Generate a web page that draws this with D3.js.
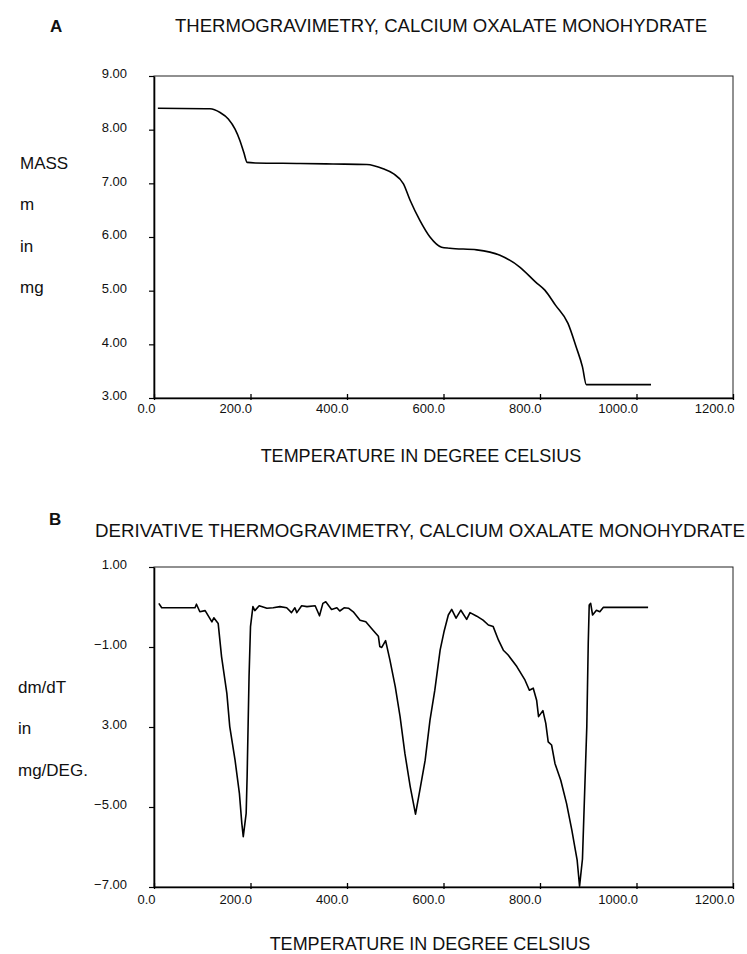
<!DOCTYPE html>
<html>
<head>
<meta charset="utf-8">
<script src="https://cdn.jsdelivr.net/npm/d3@7"></script>
<style>
  body { margin: 0; background: #fff; }
  text { font-family: "Liberation Sans", Arial, sans-serif; fill: #111; }
</style>
</head>
<body>
<div id="chart"></div>
<script>
// ---- data ----
// A: mass (mg) against temperature (deg C)
var tgTemp = [8, 116, 137, 154, 168, 178, 186, 193, 210, 303, 371, 441, 475, 496, 517, 531,
  551, 572, 596, 613, 669, 717, 758, 791, 810, 832, 858, 875, 888, 896, 1030]
var tgMass = [8.40, 8.39, 8.32, 8.20, 8.01, 7.80, 7.58, 7.39, 7.38, 7.37, 7.36, 7.35, 7.27, 7.18, 6.99, 6.68,
  6.31, 6.00, 5.81, 5.79, 5.76, 5.66, 5.44, 5.16, 5.01, 4.73, 4.39, 3.95, 3.58, 3.25, 3.25]

// B: dm/dT (mg/deg) against temperature
var dtgTemp = [10, 16, 85, 88, 95, 106, 120, 124, 133, 140, 151, 157, 168, 177, 182, 185, 191, 193, 195, 197, 200,
  205, 209, 218, 234, 247, 261, 275, 285, 292, 296, 306, 317, 334, 343, 350, 356, 368, 379, 385, 394, 403, 413,
  427, 439, 454, 465, 468, 472, 480, 489, 500, 510, 520, 531, 542, 551, 562, 572, 582, 593, 601, 610, 617, 626,
  636, 648, 655, 669, 682, 693, 703, 714, 724, 734, 752, 769, 778, 786, 793, 797, 806, 812, 817, 824, 831, 843,
  855, 866, 872, 877, 882, 888, 897, 900, 902, 905, 909, 917, 924, 931, 1024]
var dtgValue = [0.09, -0.02, -0.02, 0.07, -0.12, -0.09, -0.37, -0.27, -0.41, -1.24, -2.16, -2.99, -3.83, -4.66, -5.41, -5.74, -5.16, -4.24, -2.99, -1.74, -0.49,
  0.01, -0.09, 0.03, -0.03, -0.02, 0.01, -0.02, -0.14, -0.02, -0.14, 0.03, 0.01, 0.03, -0.22, 0.09, 0.13, -0.06, -0.02, -0.10, -0.02, -0.03, -0.12,
  -0.33, -0.37, -0.58, -0.73, -0.99, -1.01, -0.84, -1.33, -1.99, -2.74, -3.66, -4.49, -5.18, -4.58, -3.83, -2.83, -2.08, -1.08, -0.62, -0.20, -0.06, -0.28,
  -0.08, -0.31, -0.14, -0.23, -0.33, -0.45, -0.49, -0.83, -1.08, -1.20, -1.49, -1.83, -2.08, -2.03, -2.33, -2.74, -2.59, -2.91, -3.37, -3.45, -3.91, -4.33,
  -4.91, -5.58, -5.99, -6.33, -6.98, -6.30, -2.99, -0.90, 0.05, 0.09, -0.20, -0.08, -0.12, -0.01, -0.01]

var xTicks = [0, 200, 400, 600, 800, 1000, 1200]
var xTickLabels = ["0.0", "200.0", "400.0", "600.0", "800.0", "1000.0", "1200.0"]
var tgTicks = [3, 4, 5, 6, 7, 8, 9]
var tgTickLabels = ["3.00", "4.00", "5.00", "6.00", "7.00", "8.00", "9.00"]
var dtgTicks = [1, -1, -3, -5, -7]
var dtgTickLabels = ["1.00", "\u22121.00", "3.00", "\u22125.00", "\u22127.00"]

var xLabel = "TEMPERATURE IN DEGREE CELSIUS"
var tgTitle = "THERMOGRAVIMETRY,  CALCIUM OXALATE MONOHYDRATE"
var dtgTitle = "DERIVATIVE THERMOGRAVIMETRY, CALCIUM OXALATE MONOHYDRATE"
var tgYLabel = ["MASS", "m", "in", "mg"]
var dtgYLabel = ["dm/dT", "in", "mg/DEG."]

var svg = d3.select("#chart").append("svg")
  .attr("width", 747)
  .attr("height", 954)

function panel(opt){
  var g = svg.append("g")
  var x = d3.scaleLinear().domain([0, 1200]).range([154, 733])
  var y = d3.scaleLinear().domain(opt.domain).range([opt.bottom, opt.top])

  g.append("rect")
    .attr("x", 154).attr("y", opt.top)
    .attr("width", 733 - 154).attr("height", opt.bottom - opt.top)
    .attr("fill", "none").attr("stroke", "#222").attr("stroke-width", 1)

  var xAxis = g.append("g")
    .attr("transform", "translate(0," + opt.bottom + ")")
    .call(d3.axisBottom(x).tickValues(xTicks)
      .tickFormat(function(d, i){ return xTickLabels[i] })
      .tickSizeInner(-4).tickSizeOuter(0).tickPadding(opt.xPad))
  xAxis.select(".domain").attr("stroke", "#000").attr("stroke-width", 1.6)
  xAxis.selectAll(".tick line").attr("stroke", "#000").attr("stroke-width", 1.3)
    .attr("y1", 2)
  // the tick labels end at their tick
  xAxis.selectAll("text").attr("font-size", 13).attr("fill", "#222")
    .attr("text-anchor", "end").attr("x", 1)
    .attr("font-family", "'Liberation Sans', Arial, sans-serif")

  var yAxis = g.append("g")
    .attr("transform", "translate(154,0)")
    .call(d3.axisLeft(y).tickValues(opt.ticks)
      .tickFormat(function(d, i){ return opt.tickLabels[i] })
      .tickSizeInner(5).tickSizeOuter(0).tickPadding(22))
  yAxis.select(".domain").attr("stroke", "#000").attr("stroke-width", 1.6)
  yAxis.selectAll(".tick line").attr("stroke", "#000").attr("stroke-width", 1.2)
  yAxis.selectAll("text").attr("font-size", 13).attr("fill", "#222").attr("dy", "0.13em")
    .attr("font-family", "'Liberation Sans', Arial, sans-serif")

  var pts = d3.zip(opt.xs, opt.ys)
  g.append("path")
    .datum(pts)
    .attr("fill", "none")
    .attr("stroke", "#000")
    .attr("stroke-width", 1.6)
    .attr("stroke-linejoin", "round")
    .attr("d", d3.line()
      .x(function(d){ return x(d[0]) })
      .y(function(d){ return y(d[1]) })
      .curve(opt.curve))

  // letter, title, axis labels
  g.append("text").attr("x", opt.letterX).attr("y", opt.letterY)
    .attr("font-size", 17).attr("font-weight", "bold").text(opt.letter)
  g.append("text").attr("x", opt.titleX).attr("y", opt.titleY)
    .attr("font-size", 18).attr("textLength", opt.titleLen)
    .attr("lengthAdjust", "spacingAndGlyphs").text(opt.title)
  g.append("text").attr("x", opt.xLabelX).attr("y", opt.xLabelY)
    .attr("text-anchor", "middle").attr("font-size", 18).text(xLabel)
  g.selectAll(".ylab").data(opt.yLabel).enter().append("text")
    .attr("x", opt.yLabX)
    .attr("y", function(d, i){ return opt.yLabY + i * 41.3 })
    .attr("font-size", 17)
    .text(function(d){ return d })
}

panel({
  domain: [3, 9], top: 76, bottom: 398,
  ticks: tgTicks, tickLabels: tgTickLabels,
  xs: tgTemp, ys: tgMass, curve: d3.curveMonotoneX, xPad: 6,
  letter: "A", letterX: 50, letterY: 32,
  title: tgTitle, titleX: 175, titleY: 31.5, titleLen: 532,
  xLabelX: 421, xLabelY: 461.5,
  yLabel: tgYLabel, yLabX: 20, yLabY: 169
})

panel({
  domain: [-7, 1], top: 567, bottom: 887,
  ticks: dtgTicks, tickLabels: dtgTickLabels,
  xs: dtgTemp, ys: dtgValue, curve: d3.curveLinear, xPad: 8,
  letter: "B", letterX: 49, letterY: 525,
  title: dtgTitle, titleX: 95, titleY: 536.5, titleLen: 650,
  xLabelX: 430, xLabelY: 950,
  yLabel: dtgYLabel, yLabX: 18, yLabY: 693
})
</script>
</body>
</html>
